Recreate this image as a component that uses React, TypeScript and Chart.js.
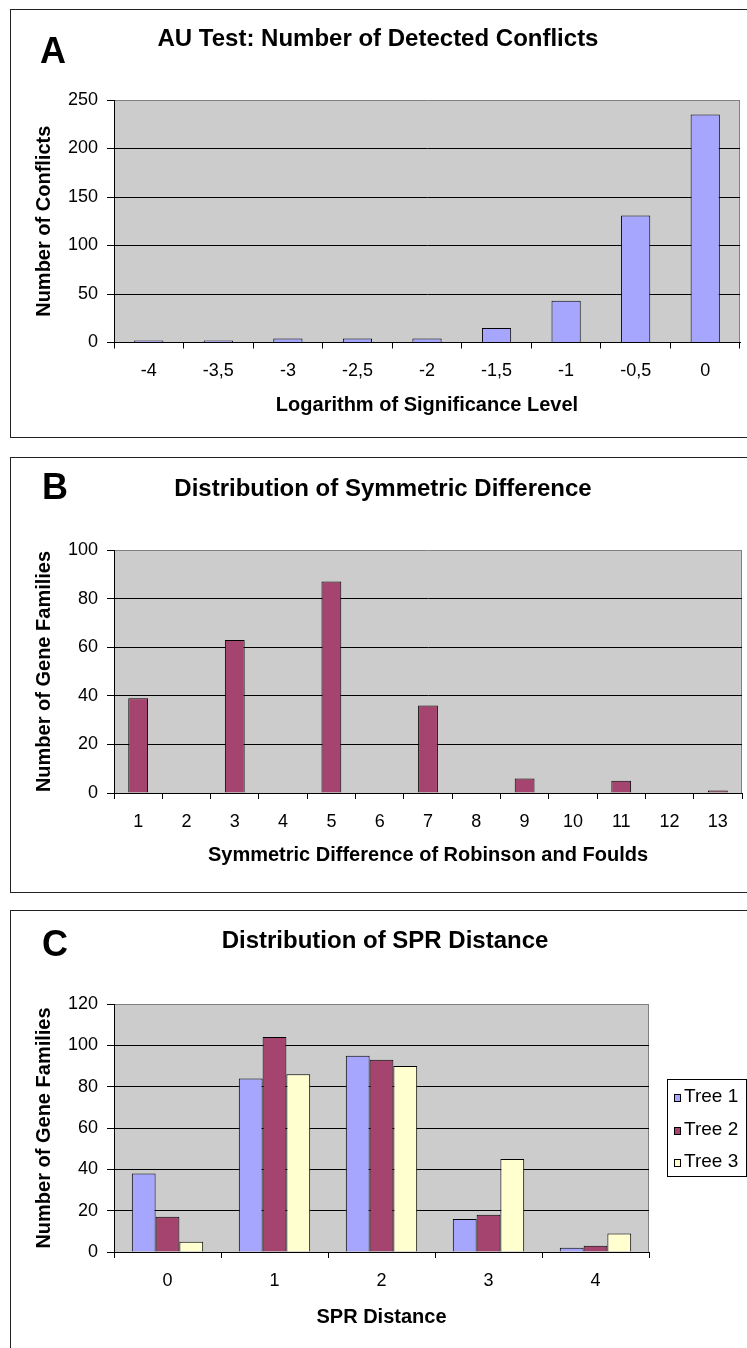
import React, { useEffect, useRef } from 'react';
import { Chart, registerables } from 'chart.js';

Chart.register(...registerables);

const FONT = "'Liberation Sans', Arial, Helvetica, sans-serif";

// ---- Panel A data ----
const aLabels = ['-4', '-3,5', '-3', '-2,5', '-2', '-1,5', '-1', '-0,5', '0'];
const aValues = [2, 2, 4, 4, 4, 15, 43, 131, 235];

// ---- Panel B data ----
const bLabels = ['1', '2', '3', '4', '5', '6', '7', '8', '9', '10', '11', '12', '13'];
const bValues = [39, 0, 63, 0, 87, 0, 36, 0, 6, 0, 5, 0, 1];

// ---- Panel C data ----
const cLabels = ['0', '1', '2', '3', '4'];
const cTree1 = [38, 84, 95, 16, 2];
const cTree2 = [17, 104, 93, 18, 3];
const cTree3 = [5, 86, 90, 45, 9];
const cSeriesNames = ['Tree 1', 'Tree 2', 'Tree 3'];

const BLUE = '#a6a6ff';
const MAROON = '#a5456f';
const CREAM = '#ffffd0';
const PLOT_BG = '#cccccc';

const decorPlugin = {
  id: 'decor',
  beforeDraw(chart: any, _args: any, opts: any) {
    const { ctx, chartArea: ca } = chart;
    ctx.save();
    ctx.fillStyle = PLOT_BG;
    ctx.fillRect(ca.left, ca.top, ca.right - ca.left, ca.bottom - ca.top);
    ctx.strokeStyle = '#808080';
    ctx.lineWidth = 1;
    ctx.beginPath();
    ctx.moveTo(Math.round(ca.right) - 0.5, ca.top);
    ctx.lineTo(Math.round(ca.right) - 0.5, ca.bottom);
    ctx.stroke();

    ctx.fillStyle = '#000';
    ctx.textBaseline = 'alphabetic';
    ctx.textAlign = 'left';
    ctx.font = `bold 36px ${FONT}`;
    ctx.fillText(opts.letter, opts.letterX, opts.letterY);
    ctx.textAlign = 'center';
    ctx.font = `bold 24px ${FONT}`;
    ctx.fillText(opts.title, opts.titleX, opts.titleY);

    const lg = opts.legend;
    if (lg) {
      ctx.strokeStyle = '#000';
      ctx.lineWidth = 1;
      ctx.strokeRect(lg.x + 0.5, lg.y + 0.5, lg.w, lg.h);
      ctx.font = `19px ${FONT}`;
      ctx.textAlign = 'left';
      chart.data.datasets.forEach((ds: any, i: number) => {
        const by = lg.rows[i];
        ctx.fillStyle = ds.backgroundColor;
        ctx.fillRect(lg.markerX, by - 8, 7, 8);
        ctx.strokeStyle = '#000';
        ctx.strokeRect(lg.markerX + 0.5, by - 8 + 0.5, 6, 7);
        ctx.fillStyle = '#000';
        ctx.fillText(ds.label, lg.textX, by);
      });
    }
    ctx.restore();
  },
};

type Spec = {
  top: number;
  height: number;
  padTop: number;
  padRight: number;
  xAxisHeight: number;
  xTitlePad: number;
  yMax: number;
  yStep: number;
  xTitle: string;
  yTitle: string;
  labels: string[];
  datasets: any[];
  decor: any;
};

function Panel({ spec }: { spec: Spec }) {
  const ref = useRef<HTMLCanvasElement | null>(null);
  useEffect(() => {
    if (!ref.current) return;
    const yMax = spec.yMax;
    const chart = new Chart(ref.current, {
      type: 'bar',
      data: { labels: spec.labels, datasets: spec.datasets },
      plugins: [decorPlugin as any],
      options: {
        responsive: false,
        animation: false,
        events: [],
        layout: { padding: { left: 0, top: spec.padTop, right: spec.padRight, bottom: 0 } },
        plugins: {
          legend: { display: false },
          tooltip: { enabled: false },
          title: { display: false },
          decor: spec.decor,
        } as any,
        scales: {
          x: {
            ticks: {
              color: '#000',
              font: { family: FONT, size: 18 },
              padding: 12,
              maxRotation: 0,
              autoSkip: false,
            },
            grid: {
              display: true,
              drawOnChartArea: false,
              drawTicks: true,
              tickLength: 6,
              color: '#000',
              offset: true,
            },
            border: { display: true, color: '#000', width: 1 },
            title: {
              display: true,
              text: spec.xTitle,
              color: '#000',
              font: { family: FONT, size: 20, weight: 'bold' },
              padding: { top: 0, bottom: spec.xTitlePad },
            },
            afterFit: (axis: any) => {
              axis.height = spec.xAxisHeight;
            },
          },
          y: {
            min: 0,
            max: yMax,
            ticks: {
              stepSize: spec.yStep,
              color: '#000',
              font: { family: FONT, size: 18 },
              padding: 9,
            },
            grid: {
              color: (c: any) => (c.tick && c.tick.value === yMax ? '#808080' : '#000'),
              tickColor: '#000',
              tickLength: 7,
              lineWidth: 1,
            },
            border: { display: true, color: '#000', width: 1 },
            title: {
              display: true,
              text: spec.yTitle,
              color: '#000',
              font: { family: FONT, size: 20, weight: 'bold' },
              padding: { top: 32, bottom: 0 },
            },
            afterFit: (axis: any) => {
              axis.width = 114;
            },
          },
        } as any,
      },
    });
    return () => chart.destroy();
  }, [spec]);
  return (
    <canvas
      ref={ref}
      width={747}
      height={spec.height}
      style={{ position: 'absolute', left: 0, top: spec.top, width: 747, height: spec.height }}
    />
  );
}

const specA: Spec = {
  top: 0,
  height: 447,
  padTop: 100,
  padRight: 7,
  xAxisHeight: 104.5,
  xTitlePad: 30,
  yMax: 250,
  yStep: 50,
  xTitle: 'Logarithm of Significance Level',
  yTitle: 'Number of Conflicts',
  labels: aLabels,
  datasets: [
    {
      label: 'Conflicts',
      data: aValues,
      backgroundColor: BLUE,
      borderColor: '#000',
      borderWidth: 1,
      barPercentage: 0.42,
      categoryPercentage: 1,
    },
  ],
  decor: { letter: 'A', letterX: 40, letterY: 63, title: 'AU Test: Number of Detected Conflicts', titleX: 378, titleY: 46 },
};

const specB: Spec = {
  top: 447,
  height: 453,
  padTop: 103,
  padRight: 5,
  xAxisHeight: 107,
  xTitlePad: 33,
  yMax: 100,
  yStep: 20,
  xTitle: 'Symmetric Difference of Robinson and Foulds',
  yTitle: 'Number of Gene Families',
  labels: bLabels,
  datasets: [
    {
      label: 'Gene families',
      data: bValues,
      backgroundColor: MAROON,
      borderColor: '#000',
      borderWidth: 1,
      barPercentage: 0.41,
      categoryPercentage: 1,
    },
  ],
  decor: { letter: 'B', letterX: 42, letterY: 52, title: 'Distribution of Symmetric Difference', titleX: 383, titleY: 49 },
};

const specC: Spec = {
  top: 900,
  height: 448,
  padTop: 104,
  padRight: 98,
  xAxisHeight: 96,
  xTitlePad: 19,
  yMax: 120,
  yStep: 20,
  xTitle: 'SPR Distance',
  yTitle: 'Number of Gene Families',
  labels: cLabels,
  datasets: [cTree1, cTree2, cTree3].map((d, i) => ({
    label: cSeriesNames[i],
    data: d,
    backgroundColor: [BLUE, MAROON, CREAM][i],
    borderColor: '#000',
    borderWidth: 1,
    barPercentage: 1,
    categoryPercentage: 0.667,
  })),
  decor: {
    letter: 'C',
    letterX: 42,
    letterY: 56,
    title: 'Distribution of SPR Distance',
    titleX: 385,
    titleY: 48,
    legend: { x: 667, y: 179, w: 79, h: 97, rows: [202, 235, 267], markerX: 674, textX: 684 },
  },
};

const frame = (top: number, height: number): React.CSSProperties => ({
  position: 'absolute',
  left: 10,
  top,
  width: 800,
  height,
  boxSizing: 'border-box',
  border: '1.5px solid #222',
});

export default function App() {
  return (
    <div
      style={{
        position: 'absolute',
        left: 0,
        top: 0,
        width: 747,
        height: 1348,
        overflow: 'hidden',
        background: '#fff',
      }}
    >
      <div style={frame(9, 429)} />
      <div style={frame(457, 436)} />
      <div style={frame(910, 500)} />
      <Panel spec={specA} />
      <Panel spec={specB} />
      <Panel spec={specC} />
    </div>
  );
}
